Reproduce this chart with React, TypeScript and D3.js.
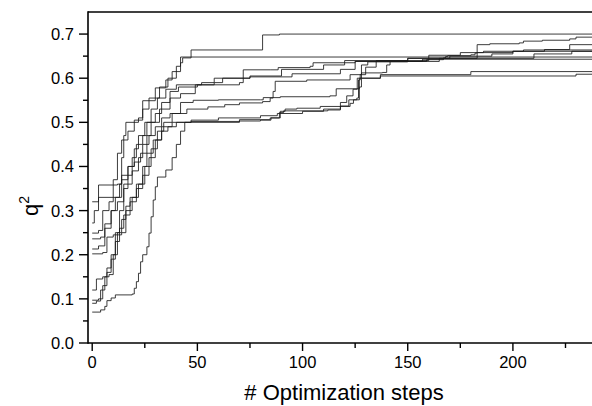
import React from "react";
import * as d3 from "d3";

type P = [number, number];

const END = 240;

const run1: P[] = [[0,0.272],[1,0.3],[3,0.33],[13,0.36],[14,0.42],[15,0.47],[16,0.5],[22,0.51],[24,0.549],[30,0.578],[35,0.596],[38,0.615],[42,0.635],[43,0.646],[47,0.664],[81,0.698],[89,0.7]];
const run2: P[] = [[0,0.249],[3,0.255],[5,0.3],[8,0.32],[10,0.37],[12,0.43],[14,0.46],[17,0.48],[20,0.505],[24,0.53],[27,0.555],[32,0.58],[36,0.6],[40,0.627],[42,0.648]];
const run3: P[] = [[0,0.236],[4,0.24],[6,0.27],[9,0.3],[11,0.33],[14,0.37],[17,0.4],[20,0.44],[22,0.47],[25,0.5],[28,0.53],[31,0.555],[35,0.575],[40,0.585],[52,0.59],[58,0.6],[75,0.603],[95,0.61],[118,0.62],[125,0.638],[157,0.643]];
const run4: P[] = [[0,0.213],[3,0.22],[6,0.26],[9,0.3],[12,0.32],[15,0.36],[19,0.39],[22,0.42],[24,0.45],[27,0.47],[30,0.49],[33,0.51],[37,0.52],[45,0.53],[55,0.535],[63,0.54],[70,0.544],[81,0.547],[84.6,0.555],[86,0.57],[87,0.593],[102,0.596],[122.6,0.608],[128,0.612],[138,0.613],[140,0.63],[141.6,0.638],[159,0.642],[167,0.646],[168,0.649],[169,0.651],[180,0.653],[182,0.657],[183,0.676],[189,0.678],[203,0.68],[205,0.684],[214,0.686],[227,0.689],[230,0.693]];
const run5: P[] = [[0,0.07],[4,0.075],[6,0.083],[7,0.096],[9,0.102],[11,0.109],[19,0.111],[20,0.124],[21,0.139],[22,0.158],[23,0.184],[24,0.2],[26,0.218],[27,0.249],[28,0.286],[29,0.324],[30,0.354],[31,0.376],[35,0.392],[38,0.42],[40,0.45],[42,0.48],[44,0.5],[70,0.506],[84.6,0.51],[89.4,0.525],[91.7,0.53],[97.3,0.532],[108.4,0.536],[122.6,0.543],[124.2,0.551],[125.8,0.555],[126.6,0.596],[127.4,0.608],[130,0.625],[135,0.64],[160,0.645],[183,0.658],[186,0.661],[205,0.664]];
const run6: P[] = [[0,0.202],[5,0.205],[7,0.24],[10,0.245],[14,0.25],[16,0.3],[19,0.33],[22,0.36],[25,0.4],[28,0.44],[31,0.48],[34,0.5],[38,0.52],[42,0.545],[48,0.55],[60,0.551],[80,0.551],[81.3,0.556],[89.4,0.558],[113,0.56],[116,0.576],[127,0.6],[128,0.63],[131,0.637],[150,0.645],[160,0.652],[175,0.658],[200,0.661],[215,0.665],[227,0.676]];
const run7: P[] = [[0,0.12],[2,0.145],[5,0.15],[7,0.17],[9,0.2],[11,0.25],[13,0.3],[15,0.35],[17,0.38],[19,0.42],[21,0.45],[24,0.47],[26,0.5],[30,0.52],[33,0.545],[37,0.57],[41,0.58],[50,0.585],[58,0.59],[62,0.6],[75,0.605],[90,0.62],[110,0.63],[120,0.64],[150,0.645],[170,0.65],[190,0.655],[200,0.661]];
const run8: P[] = [[0,0.097],[3,0.1],[5,0.13],[7,0.16],[9,0.19],[11,0.23],[13,0.26],[15,0.29],[18,0.32],[21,0.36],[24,0.4],[26,0.43],[29,0.46],[33,0.49],[38,0.5],[47,0.505],[60,0.51],[80,0.515],[88,0.52],[100,0.525],[110,0.53],[118,0.545],[121,0.56],[124,0.575],[126,0.6],[137,0.608],[180,0.615]];
const run9: P[] = [[0,0.09],[2,0.095],[4,0.12],[6,0.15],[8,0.155],[10,0.2],[12,0.25],[14,0.28],[16,0.31],[18,0.33],[21,0.35],[24,0.38],[27,0.42],[30,0.46],[33,0.48],[36,0.49],[40,0.5],[47,0.502],[70,0.503],[80,0.505],[85,0.51],[89,0.522],[91,0.526],[112,0.528],[118,0.537],[122,0.551],[125,0.551],[127,0.58],[128,0.6],[137,0.605],[230,0.609]];
const run10: P[] = [[0,0.32],[3,0.358],[12,0.36],[14,0.38],[17,0.4],[20,0.41],[23,0.43],[26,0.47],[28,0.5],[32,0.53],[37,0.555],[42,0.565],[49,0.585],[70,0.59],[71.8,0.619],[84.6,0.619],[88.4,0.624],[103.6,0.627],[105,0.635],[125,0.638],[165,0.645],[210,0.655],[228,0.661]];

const runs: P[][] = [run1, run2, run3, run4, run5, run6, run7, run8, run9, run10];

const yMajor = [0, 0.1, 0.2, 0.3, 0.4, 0.5, 0.6, 0.7];
const yMinor = [0.05, 0.15, 0.25, 0.35, 0.45, 0.55, 0.65];
const xMajor = [0, 50, 100, 150, 200];
const xMinor = [25, 75, 125, 175, 225];

const W = 592, H = 406;
const L = 88, R = 592, T = 12, B = 343;

export default function App() {
  const x = d3.scaleLinear().domain([-2, 237.6]).range([L, R]);
  const y = d3.scaleLinear().domain([0, 0.75]).range([B, T]);
  const line = d3.line<P>().x(d => x(d[0])).y(d => y(d[1])).curve(d3.curveStepAfter);
  const font = "'Liberation Sans', Arial, sans-serif";
  return (
    <div style={{ position: "absolute", left: 0, top: 0 }}>
      <svg width={W} height={H} style={{ display: "block", background: "#fff" }}>
        <defs>
          <clipPath id="plotclip"><rect x={L} y={T} width={R - L} height={B - T} /></clipPath>
        </defs>
        <g clipPath="url(#plotclip)">
          {runs.map((r, i) => {
            const pts: P[] = [...r, [END, r[r.length - 1][1]]];
            return <path key={i} d={line(pts) || ""} fill="none" stroke="#1a1a1a" strokeWidth={0.85} />;
          })}
        </g>
        <line x1={L} x2={R} y1={T} y2={T} stroke="#000" strokeWidth={1.6} />
        <line x1={L} x2={L} y1={T - 0.8} y2={B + 0.8} stroke="#000" strokeWidth={1.6} />
        <line x1={L} x2={R} y1={B} y2={B} stroke="#000" strokeWidth={1.6} />
        {yMajor.map(v => (
          <g key={"ym" + v}>
            <line x1={L - 9} x2={L} y1={y(v)} y2={y(v)} stroke="#000" strokeWidth={1.4} />
            <text x={L - 14} y={y(v)} dy="0.36em" textAnchor="end" fontSize={16.5} fontFamily={font}>{d3.format(".1f")(v)}</text>
          </g>
        ))}
        {yMinor.map(v => (
          <line key={"yn" + v} x1={L - 5} x2={L} y1={y(v)} y2={y(v)} stroke="#000" strokeWidth={1.4} />
        ))}
        {xMajor.map(v => (
          <g key={"xm" + v}>
            <line x1={x(v)} x2={x(v)} y1={B} y2={B + 8} stroke="#000" strokeWidth={1.4} />
            <text x={x(v)} y={368} textAnchor="middle" fontSize={16.5} fontFamily={font}>{v}</text>
          </g>
        ))}
        {xMinor.map(v => (
          <line key={"xn" + v} x1={x(v)} x2={x(v)} y1={B} y2={B + 5} stroke="#000" strokeWidth={1.4} />
        ))}
        <text x={344} y={400} textAnchor="middle" fontSize={22} fontFamily={font}># Optimization steps</text>
        <text transform="translate(38,206) rotate(-90)" textAnchor="middle" fontSize={22} fontFamily={font}>
          q<tspan dy={-9} fontSize={14}>2</tspan>
        </text>
      </svg>
    </div>
  );
}
